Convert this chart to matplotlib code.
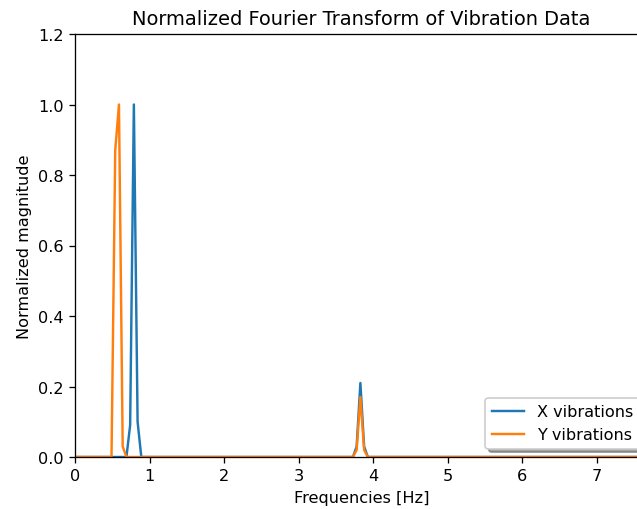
import matplotlib
matplotlib.use('Agg')
import matplotlib.pyplot as plt

# values
FREQ_X = [0.0, 0.69, 0.74, 0.79, 0.84, 0.89, 3.73, 3.78, 3.83, 3.88, 3.93, 8.0]
MAG_X = [0.0, 0.0, 0.09, 1.0, 0.10, 0.0, 0.0, 0.03, 0.21, 0.03, 0.0, 0.0]

FREQ_Y = [0.0, 0.49, 0.54, 0.59, 0.64, 0.69, 3.73, 3.78, 3.83, 3.88, 3.93, 8.0]
MAG_Y = [0.0, 0.0, 0.87, 1.0, 0.03, 0.0, 0.0, 0.02, 0.17, 0.02, 0.0, 0.0]

XTICKS = [0, 1, 2, 3, 4, 5, 6, 7]
YTICKS = [0.0, 0.2, 0.4, 0.6, 0.8, 1.0, 1.2]

DPI = 116.5


def main():
    fig = plt.figure(figsize=(637 / DPI, 510 / DPI), dpi=DPI)
    # the original is cropped on the right, so the axes run past the figure edge
    ax = fig.add_axes([75 / 637, 52 / 510, 573 / 637, 423 / 510])

    ax.plot(FREQ_X, MAG_X, color='#1f77b4', label='X vibrations')
    ax.plot(FREQ_Y, MAG_Y, color='#ff7f0e', label='Y vibrations')

    ax.set_xlim(0, 7.69)
    ax.set_ylim(0, 1.2)
    ax.set_xticks(XTICKS)
    ax.set_yticks(YTICKS)
    ax.set_yticklabels([f'{v:.1f}' for v in YTICKS])

    ax.set_title('Normalized Fourier Transform of Vibration Data')
    ax.set_xlabel('Frequencies [Hz]')
    ax.set_ylabel('Normalized magnitude')
    ax.legend(loc='lower right', shadow=True, fancybox=True, framealpha=1.0)

    fig.savefig('out.png', dpi=DPI)
    plt.close(fig)


if __name__ == '__main__':
    main()
